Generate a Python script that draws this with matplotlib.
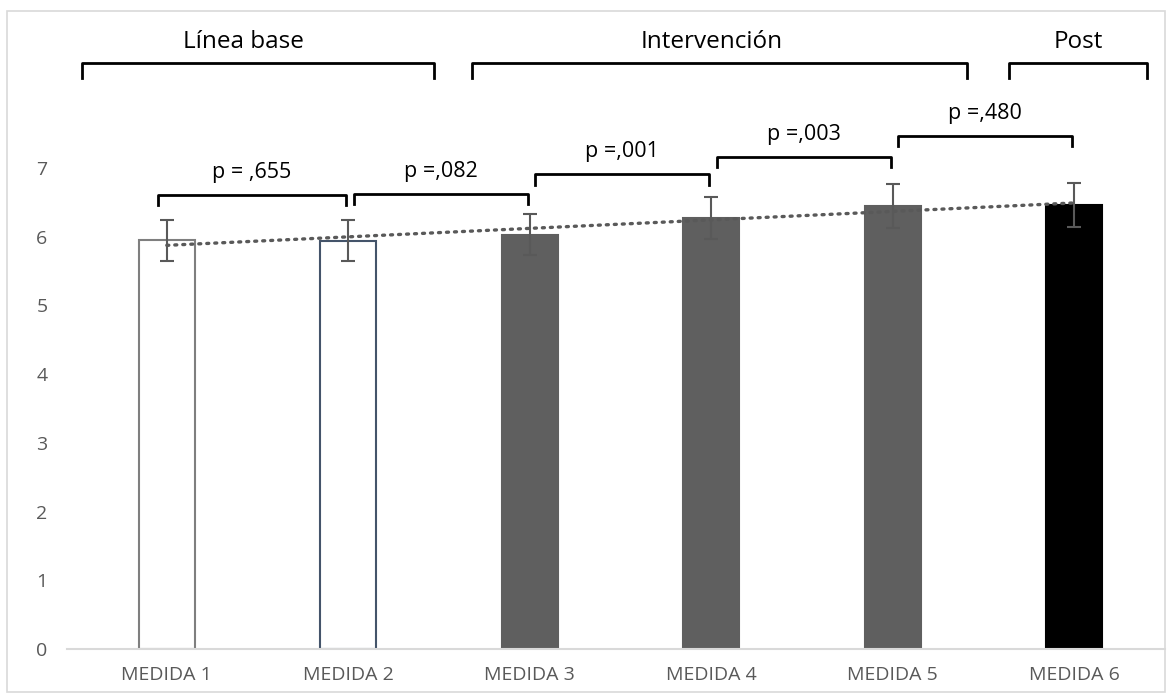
import numpy as np
import matplotlib
matplotlib.use("Agg")
import matplotlib.pyplot as plt
from matplotlib.patches import Rectangle

plt.rcParams["font.family"] = ["Open Sans", "DejaVu Sans"]

# data
categories = ["MEDIDA 1", "MEDIDA 2", "MEDIDA 3", "MEDIDA 4", "MEDIDA 5", "MEDIDA 6"]
means = [5.95, 5.94, 6.03, 6.27, 6.45, 6.46]
errors = [0.30, 0.30, 0.30, 0.31, 0.32, 0.32]
face_colors = ["white", "white", "#5f5f5f", "#5f5f5f", "#5f5f5f", "black"]
edge_colors = ["#7f7f7f", "#44546a", "#5f5f5f", "#5f5f5f", "#5f5f5f", "black"]

# pairwise comparisons: (left bar, right bar, label, bracket height)
comparisons = [
    (0, 1, "p = ,655", 6.61),
    (1, 2, "p =,082", 6.62),
    (2, 3, "p =,001", 6.91),
    (3, 4, "p =,003", 7.16),
    (4, 5, "p =,480", 7.47),
]
# phase groups: (start, end, label, label x)
phases = [
    (-0.47, 1.47, "Línea base", 0.42),
    (1.68, 4.41, "Intervención", 3.0),
    (4.64, 5.40, "Post", 5.02),
]

fig = plt.figure(figsize=(11.71, 6.98), dpi=100)
ax = fig.add_axes([0.0572, 0.0702, 0.9377, 0.9155])

x = np.arange(len(categories))
ax.bar(x, means, width=0.31, color=face_colors, edgecolor=edge_colors,
       linewidth=1.5, zorder=2)
ax.errorbar(x, means, yerr=errors, fmt="none", ecolor="#595959",
            elinewidth=1.5, capsize=5, capthick=1.5, zorder=3)

# linear trend line
coef = np.polyfit(x, means, 1)
ax.plot([x[0], x[-1]], np.polyval(coef, [x[0], x[-1]]), color="#595959",
        linestyle=(0, (0.6, 1.8)), linewidth=2.4, dash_capstyle="round",
        zorder=4)

drop = 0.15
for i, j, label, h in comparisons:
    xl = x[i] + (0.03 if i else -0.05)
    xr = x[j] - 0.01
    ax.plot([xl, xl, xr, xr], [h - drop, h, h, h - drop], color="black",
            linewidth=2, clip_on=False, zorder=5)
    ax.text((xl + xr) / 2, h + 0.33, label, ha="center", va="center",
            fontsize=15.5, color="black")

for xs, xe, label, lx in phases:
    ax.plot([xs, xs, xe, xe], [8.31, 8.53, 8.53, 8.31], color="black",
            linewidth=2, clip_on=False)
    ax.text(lx, 8.84, label, ha="center", va="center",
            fontsize=17.5, color="black")

ax.set_xlim(-0.55, 5.5)
ax.set_ylim(0, 9.3)
ax.set_xticks(x)
ax.set_xticklabels(categories)
ax.set_yticks(range(8))
ax.tick_params(axis="both", length=0, labelcolor="#595959", labelsize=14)
ax.tick_params(axis="x", pad=12)
ax.tick_params(axis="y", pad=14)
for s in ["top", "right", "left"]:
    ax.spines[s].set_visible(False)
ax.spines["bottom"].set_color("#d9d9d9")
ax.spines["bottom"].set_linewidth(1.5)

# outer chart border
fig.patches.append(Rectangle((7 / 1171, 6 / 698), 1158 / 1171, 681 / 698,
                             transform=fig.transFigure, fill=False,
                             edgecolor="#d9d9d9", linewidth=1.2))

fig.savefig("out.png", dpi=100)
